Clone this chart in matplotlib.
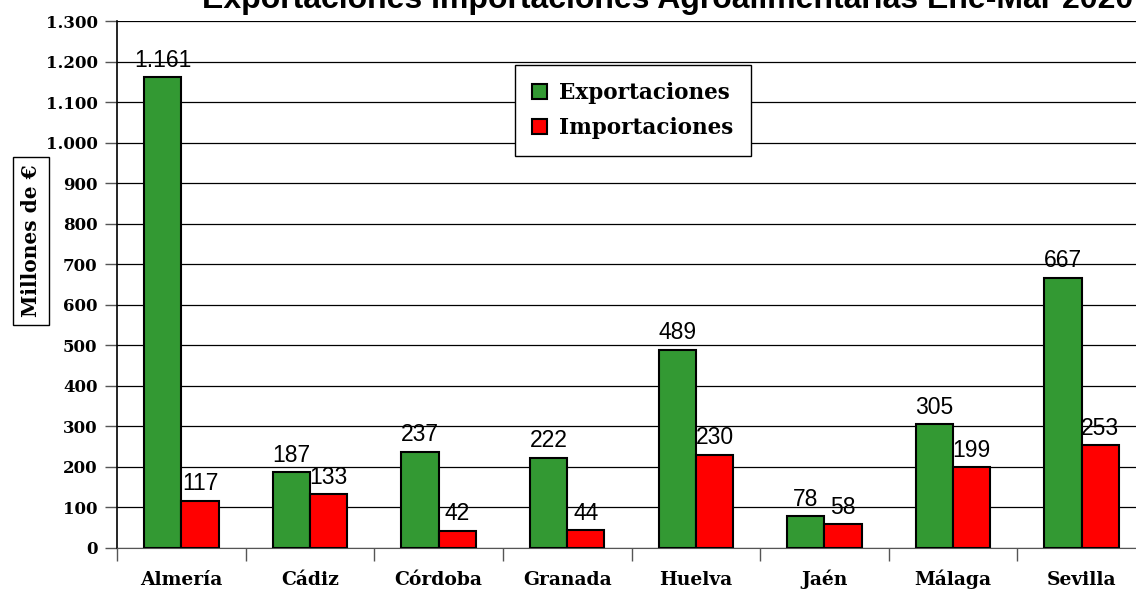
import matplotlib.pyplot as plt
import numpy as np

provincias = ['Almería', 'Cádiz', 'Córdoba', 'Granada', 'Huelva', 'Jaén', 'Málaga', 'Sevilla']
exportaciones = [1161, 187, 237, 222, 489, 78, 305, 667]
importaciones = [117, 133, 42, 44, 230, 58, 199, 253]
etiquetas_exp = ['1.161', '187', '237', '222', '489', '78', '305', '667']
etiquetas_imp = ['117', '133', '42', '44', '230', '58', '199', '253']
yticks = list(range(0, 1301, 100))
ytick_labels = ['0', '100', '200', '300', '400', '500', '600', '700', '800', '900',
                '1.000', '1.100', '1.200', '1.300']

W, H = 1136, 590
fig = plt.figure(figsize=(W / 100, H / 100), dpi=100)
# axes box in pixels: left 117, right 1146, top 21, bottom 548
AL, AR, AT, AB = 117, 1146, 21, 548
ax = fig.add_axes([AL / W, 1 - AB / H, (AR - AL) / W, (AB - AT) / H])

serif = 'DejaVu Serif'
x = np.arange(len(provincias))
bw = 0.29
ax.bar(x - bw / 2, exportaciones, bw, color='#339933', edgecolor='black', linewidth=1.5,
       label='Exportaciones', zorder=3)
ax.bar(x + bw / 2, importaciones, bw, color='#ff0000', edgecolor='black', linewidth=1.5,
       label='Importaciones', zorder=3)

for xi, v, t in zip(x, exportaciones, etiquetas_exp):
    ax.annotate(t, (xi - bw / 2, v), xytext=(0, 4), textcoords='offset points',
                ha='center', va='bottom', fontsize=16.5, family='Liberation Sans', zorder=4)
for xi, v, t in zip(x, importaciones, etiquetas_imp):
    ax.annotate(t, (xi + bw / 2, v), xytext=(0, 4), textcoords='offset points',
                ha='center', va='bottom', fontsize=16.5, family='Liberation Sans', zorder=4)

ax.set_xlim(-0.5, len(provincias) - 0.5)
ax.set_ylim(0, 1300)
ax.set_yticks(yticks)
ax.set_yticklabels(ytick_labels, family=serif, fontweight='bold', fontsize=12)
ax.set_xticks(x)
ax.set_xticklabels(provincias, family=serif, fontweight='bold', fontsize=13.5, va='baseline')
ax.set_xticks(np.arange(-0.5, len(provincias), 1), minor=True)
ax.tick_params(axis='x', which='major', length=0, pad=26.5)
ax.tick_params(axis='x', which='minor', length=9, width=1, color='#555555')
ax.tick_params(axis='y', length=9, width=1, color='#555555', pad=5)
ax.yaxis.grid(True, color='black', linewidth=0.9, zorder=0)
ax.set_axisbelow(True)
for s in ['top', 'right']:
    ax.spines[s].set_visible(False)
ax.spines['left'].set_linewidth(1.2)
ax.spines['bottom'].set_color('#555555')

ax.set_ylabel('Millones de €', family=serif, fontweight='bold', fontsize=14.5,
              bbox=dict(boxstyle='square,pad=0.4', facecolor='white', edgecolor='black'))
ax.yaxis.set_label_coords(-76 / (AR - AL), (AB - 241) / (AB - AT))

leg = ax.legend(loc='upper left', bbox_to_anchor=((515 - AL) / (AR - AL), 1 - (65 - AT) / (AB - AT)),
                prop={'family': serif, 'weight': 'bold', 'size': 15.5}, frameon=True, fancybox=False,
                edgecolor='black', framealpha=1, handlelength=0.7, handleheight=0.7,
                handletextpad=0.55, borderpad=0.8, labelspacing=0.6, borderaxespad=0)
leg.get_frame().set_linewidth(1)

fig.text(202 / W, 1 - 8 / H, 'Exportaciones Importaciones Agroalimentarias Ene-Mar 2020',
         ha='left', va='baseline', fontsize=23, fontweight='bold', family='Liberation Sans')

fig.savefig('out.png', dpi=100)
